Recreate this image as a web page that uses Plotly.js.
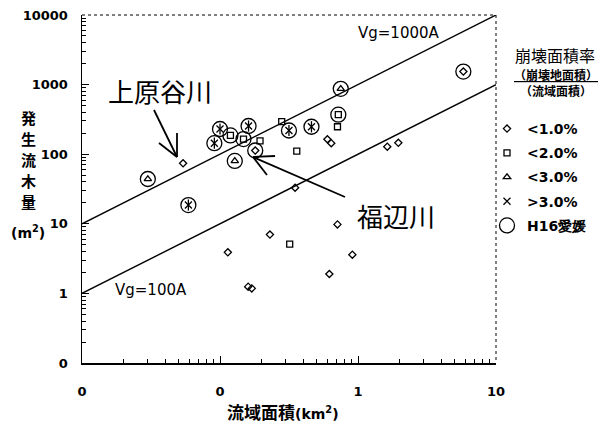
<!DOCTYPE html>
<html>
<head>
<meta charset="utf-8">
<script src="https://cdn.plot.ly/plotly-3.0.1.min.js"></script>
<style>
  html, body { margin: 0; padding: 0; background: #fff; }
  #chart { width: 615px; height: 429px; }
</style>
</head>
<body>
<div id="chart"></div>
<script>
// 流域面積 vs 発生流木量 (log–log)

// 崩壊面積率 < 1.0 %
const diaX = [0.054, 0.60, 0.64, 1.63, 1.96, 0.35, 0.71, 0.23, 0.114, 0.91, 0.62, 0.160, 0.170];
const diaY = [74, 164, 144, 128, 146, 33, 9.8, 7.0, 3.9, 3.6, 1.9, 1.25, 1.18];

// 崩壊面積率 < 2.0 %
const sqX = [0.195, 0.28, 0.36, 0.71, 0.32];
const sqY = [155, 293, 111, 248, 5.1];

// H16 愛媛 (circled), split by 崩壊面積率 class
const h16DiaX = [0.18, 5.8];
const h16DiaY = [113, 1540];
const h16SqX = [0.119, 0.148, 0.72];
const h16SqY = [186, 165, 370];
const h16TriX = [0.030, 0.128, 0.75];
const h16TriY = [44, 80, 870];
const h16AstX = [0.059, 0.100, 0.091, 0.161, 0.316, 0.46];
const h16AstY = [18.6, 230, 144, 254, 219, 248];

// Reference lines Vg = 1000A and Vg = 100A
const refX = [0.01, 10];
const vg1000Y = [10, 10000];
const vg100Y = [1, 1000];

// Axis ticks
const xTickVals = [0.01, 0.1, 1, 10];
const xTickText = ['0', '0', '1', '10'];
const yTickVals = [0.1, 1, 10, 100, 1000, 10000];
const yTickText = ['0', '1', '10', '100', '1000', '10000'];

// Vertical axis title, one character per line
const yTitleChars = ['発', '生', '流', '木', '量'];

function minorTicks(lo, hi) {
  const out = [];
  for (let e = lo; e < hi; e++) {
    for (let d = 2; d <= 9; d++) out.push(d * Math.pow(10, e));
  }
  return out;
}

const INK = '#000';
const LW = 1.3;

function pts(name, x, y, symbol, size, group, showlegend) {
  return {
    type: 'scatter', mode: 'markers', name: name, x: x, y: y,
    legendgroup: group, showlegend: showlegend,
    marker: { symbol: symbol, size: size, color: INK, line: { color: INK, width: LW } },
    hoverinfo: 'x+y'
  };
}

const allH16X = h16DiaX.concat(h16SqX, h16TriX, h16AstX);
const allH16Y = h16DiaY.concat(h16SqY, h16TriY, h16AstY);

const traces = [
  { type: 'scatter', mode: 'lines', x: refX, y: vg1000Y, showlegend: false,
    line: { color: INK, width: 1.4 }, hoverinfo: 'skip' },
  { type: 'scatter', mode: 'lines', x: refX, y: vg100Y, showlegend: false,
    line: { color: INK, width: 1.4 }, hoverinfo: 'skip' },
  pts('&lt;1.0%', diaX.concat(h16DiaX), diaY.concat(h16DiaY), 'diamond-open', 5.5, 'g1', true),
  pts('&lt;2.0%', sqX.concat(h16SqX), sqY.concat(h16SqY), 'square-open', 6, 'g2', true),
  pts('&lt;3.0%', h16TriX, h16TriY, 'triangle-up-open', 6.5, 'g3', true),
  pts('&gt;3.0%', h16AstX, h16AstY, 'x-thin-open', 7, 'g4', true),
  pts('&gt;3.0%', h16AstX, h16AstY, 'line-ns-open', 8, 'g4', false),
  pts('H16愛媛', allH16X, allH16Y, 'circle-open', 15, 'g5', true)
];

// plot area: x 82–496 px, y 15–363 px
const W = 414, H = 348;
const px = v => (v - 82) / W;
const py = v => (363 - v) / H;

function seg(x0, y0, x1, y1, w, dash) {
  return { type: 'line', xref: 'paper', yref: 'paper',
    x0: px(x0), y0: py(y0), x1: px(x1), y1: py(y1),
    line: { color: INK, width: w, dash: dash || 'solid' } };
}

const shapes = [
  // dotted top and right frame
  seg(82, 15, 496, 15, 1, 'dot'),
  seg(496, 15, 496, 363, 1, 'dot'),
  // arrow to 上原谷川
  seg(154, 110, 177, 157, 1.8),
  seg(159, 143, 177, 157, 1.8),
  seg(177, 133, 177, 157, 1.8),
  // arrow to 福辺川
  seg(345, 197, 253, 157, 1.8),
  seg(275, 156, 253, 157, 1.8),
  seg(267, 175, 253, 157, 1.8)
];

const CJK = '"Noto Sans CJK JP", "Noto Sans", sans-serif';
const LAT = '"DejaVu Sans", "Liberation Sans", sans-serif';

function note(text, x, y, size, family, extra) {
  return Object.assign({
    text: text, xref: 'paper', yref: 'paper', x: px(x), y: py(y),
    xanchor: 'center', yanchor: 'middle', showarrow: false, borderpad: 0,
    font: { family: family, size: size, color: INK }
  }, extra || {});
}

const yTitleY = [117, 138, 159, 180, 201];

const annotations = [
  note('上原谷川', 160, 90, 26, CJK),
  note('福辺川', 396, 215, 26, CJK),
  note('Vg=1000A', 399, 33, 15, LAT),
  note('Vg=100A', 151, 290, 15, LAT),
  note('<b>(m<sup>2</sup>)</b>', 28, 232, 14, LAT),
  note('<b>流域面積<span style="font-family:DejaVu Sans;font-size:14px">(km<sup>2</sup>)</span></b>', 283, 411, 17, CJK),
  note('崩壊面積率', 555, 55, 16, CJK),
  note('<b><u>（崩壊地面積）</u></b>', 556, 74, 12, CJK),
  note('<b>（流域面積）</b>', 556, 91, 12, CJK)
].concat(yTitleChars.map((c, i) => note('<b>' + c + '</b>', 28, yTitleY[i], 15, CJK)));

const axisCommon = {
  type: 'log', showgrid: false, zeroline: false,
  showline: true, linecolor: INK, linewidth: 1.5,
  ticks: 'inside', ticklen: 7, tickwidth: 1, tickcolor: INK,
  tickmode: 'array',
  tickfont: { family: LAT, size: 13, color: INK, weight: 'bold' }
};

const layout = {
  width: 615, height: 429,
  margin: { l: 82, r: 119, t: 15, b: 66 },
  paper_bgcolor: '#fff', plot_bgcolor: '#fff',
  xaxis: Object.assign({}, axisCommon, {
    range: [-2, 1], tickvals: xTickVals, ticktext: xTickText, ticklabelstandoff: 16,
    minor: { tickmode: 'array', tickvals: minorTicks(-2, 1), ticks: 'inside', ticklen: 4, tickcolor: INK, showgrid: false }
  }),
  yaxis: Object.assign({}, axisCommon, {
    range: [-1, 4], tickvals: yTickVals, ticktext: yTickText, ticklabelstandoff: 10,
    minor: { tickmode: 'array', tickvals: minorTicks(-1, 4), ticks: 'inside', ticklen: 4, tickcolor: INK, showgrid: false }
  }),
  showlegend: true,
  legend: {
    x: px(487), y: py(113), xanchor: 'left', yanchor: 'top',
    bgcolor: 'rgba(0,0,0,0)', borderwidth: 0,
    traceorder: 'grouped', tracegroupgap: 3,
    font: { family: LAT, size: 14, color: INK, weight: 'bold' }
  },
  shapes: shapes,
  annotations: annotations,
  hovermode: 'closest'
};

Plotly.newPlot('chart', traces, layout, { staticPlot: true, displayModeBar: false });
</script>
</body>
</html>
